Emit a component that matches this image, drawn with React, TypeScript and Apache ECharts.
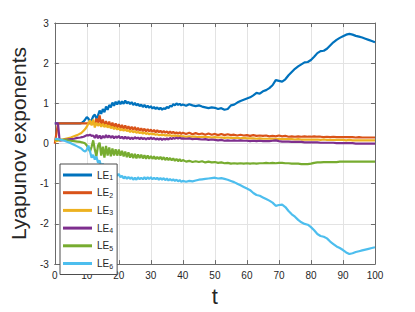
import React, { useEffect, useRef } from "react";
import * as echarts from "echarts";

const times = [
  0, 1, 1.5, 2, 3, 4, 5, 6, 7,
  8, 8.5, 9, 9.5, 10, 10.5, 11, 11.5, 12, 12.5, 13, 13.5, 14, 14.5, 15, 15.5,
  16, 16.5, 17, 17.5, 18, 18.5, 19, 19.5, 20, 20.5, 21, 21.5, 22, 22.5, 23, 23.5,
  24, 24.5, 25, 25.5, 26, 26.5, 27, 27.5, 28, 28.5, 29, 29.5, 30, 30.5, 31, 31.5,
  32, 32.5, 33, 33.5, 34, 34.5, 35, 35.5, 36, 36.5, 37, 37.5, 38, 38.5, 39, 39.5,
  40, 41, 42, 43, 44, 45, 46, 47, 48, 49, 50, 51, 52, 53, 54, 55, 56, 57, 58, 59,
  60, 61, 62, 63, 64, 65, 66, 67, 68, 69, 70, 71, 72, 73, 74, 75, 76, 77, 78, 79,
  80, 81, 82, 83, 84, 85, 86, 87, 88, 89, 90, 91, 92, 93, 94, 95, 96, 97, 98, 99, 100,
];

const le1 = [
  0.5, 0.5, 0.5, 0.5, 0.5, 0.5, 0.5, 0.5, 0.5,
  0.5, 0.52, 0.55, 0.6, 0.66, 0.62, 0.55, 0.58, 0.68, 0.72, 0.62, 0.7, 0.82, 0.74, 0.86, 0.78,
  0.92, 0.84, 0.96, 0.9, 1.02, 0.94, 1.04, 0.97, 1.06, 0.98, 1.05, 0.99, 1.07, 1.0, 1.04, 0.98,
  1.03, 0.96, 1.01, 0.95, 0.99, 0.93, 0.97, 0.91, 0.96, 0.9, 0.94, 0.89, 0.93, 0.87, 0.91, 0.86,
  0.9, 0.85, 0.89, 0.84, 0.88, 0.86, 0.91, 0.88, 0.94, 0.92, 0.98, 0.95, 1.0, 0.96, 0.99, 0.95,
  0.97, 0.94, 0.98, 0.95, 0.93, 0.95, 0.92, 0.9, 0.88, 0.9, 0.89, 0.86, 0.88, 0.84, 0.86, 0.95, 0.97, 1.02, 1.06, 1.09,
  1.12, 1.15, 1.2, 1.26, 1.24, 1.3, 1.33, 1.38, 1.45, 1.58, 1.56, 1.54, 1.6, 1.7, 1.78, 1.86, 1.92, 1.97, 2.02, 2.03,
  2.08, 2.16, 2.25, 2.3, 2.31, 2.36, 2.44, 2.52, 2.58, 2.63, 2.67, 2.71, 2.73, 2.71, 2.68, 2.66, 2.64, 2.61, 2.58, 2.55, 2.52,
];

const le2 = [
  0, 0.5, 0.5, 0.5, 0.5, 0.5, 0.5, 0.5, 0.5,
  0.5, 0.5, 0.5, 0.5, 0.5, 0.5, 0.5, 0.5, 0.52, 0.48, 0.62, 0.5, 0.7, 0.46, 0.6, 0.44,
  0.56, 0.42, 0.55, 0.41, 0.52, 0.4, 0.5, 0.4, 0.48, 0.38, 0.46, 0.37, 0.45, 0.36, 0.43, 0.35,
  0.42, 0.34, 0.41, 0.33, 0.39, 0.32, 0.38, 0.31, 0.37, 0.3, 0.36, 0.3, 0.35, 0.29, 0.34, 0.28,
  0.33, 0.28, 0.32, 0.27, 0.31, 0.27, 0.3, 0.26, 0.3, 0.26, 0.29, 0.25, 0.28, 0.25, 0.28, 0.24,
  0.27, 0.24, 0.27, 0.23, 0.26, 0.23, 0.25, 0.22, 0.25, 0.22, 0.24, 0.21, 0.24, 0.21, 0.23, 0.21, 0.22, 0.2, 0.22, 0.2,
  0.21, 0.19, 0.21, 0.19, 0.2, 0.19, 0.2, 0.18, 0.19, 0.18, 0.2, 0.18, 0.19, 0.17, 0.18, 0.17, 0.18, 0.17, 0.18, 0.17,
  0.17, 0.18, 0.17, 0.17, 0.16, 0.17, 0.16, 0.17, 0.16, 0.16, 0.16, 0.16, 0.16, 0.16, 0.15, 0.16, 0.15, 0.15, 0.15, 0.15, 0.15,
];

const le3 = [
  0.05, 0.07, 0.08, 0.09, 0.11, 0.13, 0.15, 0.18, 0.21,
  0.25, 0.28, 0.32, 0.36, 0.42, 0.5, 0.58, 0.45, 0.6, 0.4, 0.52, 0.44, 0.5, 0.42, 0.49, 0.41,
  0.47, 0.4, 0.45, 0.38, 0.42, 0.36, 0.4, 0.35, 0.38, 0.33, 0.36, 0.32, 0.35, 0.31, 0.33, 0.29,
  0.32, 0.28, 0.31, 0.27, 0.29, 0.26, 0.28, 0.25, 0.27, 0.24, 0.26, 0.23, 0.25, 0.23, 0.24, 0.22,
  0.23, 0.21, 0.22, 0.21, 0.22, 0.2, 0.21, 0.2, 0.21, 0.19, 0.2, 0.19, 0.2, 0.18, 0.19, 0.18,
  0.18, 0.17, 0.18, 0.17, 0.17, 0.16, 0.17, 0.16, 0.16, 0.15, 0.16, 0.15, 0.15, 0.14, 0.15, 0.14, 0.14, 0.14, 0.13, 0.14,
  0.13, 0.13, 0.13, 0.12, 0.13, 0.12, 0.12, 0.12, 0.12, 0.11, 0.12, 0.11, 0.11, 0.11, 0.11, 0.1, 0.11, 0.1, 0.1, 0.1,
  0.1, 0.1, 0.1, 0.09, 0.1, 0.09, 0.09, 0.09, 0.09, 0.09, 0.09, 0.08, 0.09, 0.08, 0.08, 0.08, 0.08, 0.08, 0.08, 0.08, 0.08,
];

const le4 = [
  0.5, 0.5, 0.08, 0.08, 0.09, 0.1, 0.11, 0.12, 0.14,
  0.15, 0.16, 0.17, 0.19, 0.21, 0.2, 0.22, 0.19, 0.2, 0.14, 0.22, 0.13, 0.2, 0.12, 0.19, 0.14,
  0.21, 0.15, 0.2, 0.14, 0.19, 0.13, 0.18, 0.14, 0.19, 0.13, 0.17, 0.12, 0.17, 0.12, 0.16, 0.11,
  0.15, 0.11, 0.16, 0.12, 0.15, 0.11, 0.15, 0.11, 0.14, 0.1, 0.14, 0.11, 0.15, 0.11, 0.14, 0.1,
  0.13, 0.1, 0.13, 0.09, 0.12, 0.1, 0.13, 0.1, 0.14, 0.11, 0.14, 0.12, 0.15, 0.12, 0.15, 0.12,
  0.13, 0.12, 0.13, 0.11, 0.12, 0.11, 0.1, 0.11, 0.09, 0.1, 0.09, 0.08, 0.09, 0.07, 0.08, 0.07, 0.08, 0.07, 0.08, 0.07,
  0.07, 0.06, 0.07, 0.06, 0.07, 0.06, 0.06, 0.06, 0.07, 0.08, 0.06, 0.05, 0.05, 0.05, 0.04, 0.04, 0.04, 0.04, 0.03, 0.03,
  0.03, 0.03, 0.03, 0.02, 0.02, 0.02, 0.02, 0.02, 0.01, 0.01, 0.01, 0.01, 0.01, 0.01, 0.0, 0.0, 0.0, 0.0, 0.0, 0.0, 0.0,
];

const le5 = [
  0.1, 0.1, 0.1, 0.09, 0.09, 0.08, 0.07, 0.06, 0.05,
  0.04, 0.03, 0.02, 0.0, -0.05, -0.12, -0.2, -0.08, 0.08, -0.15, -0.32, -0.05, 0.02, -0.3, -0.08, -0.35,
  -0.06, -0.3, -0.1, -0.32, -0.12, -0.3, -0.14, -0.3, -0.15, -0.3, -0.18, -0.32, -0.2, -0.34, -0.22, -0.35,
  -0.25, -0.36, -0.26, -0.37, -0.27, -0.36, -0.28, -0.37, -0.29, -0.38, -0.3, -0.38, -0.31, -0.38, -0.32, -0.39,
  -0.33, -0.39, -0.33, -0.4, -0.34, -0.41, -0.35, -0.41, -0.36, -0.42, -0.37, -0.43, -0.38, -0.44, -0.39, -0.44,
  -0.41, -0.45, -0.43, -0.46, -0.44, -0.46, -0.44, -0.47, -0.45, -0.47, -0.46, -0.48, -0.47, -0.49, -0.48, -0.5, -0.49, -0.5, -0.49, -0.5,
  -0.49, -0.5, -0.49, -0.5, -0.49, -0.49, -0.48, -0.49, -0.48, -0.49, -0.48, -0.48, -0.49, -0.49, -0.5, -0.5, -0.5, -0.51, -0.51, -0.51,
  -0.5, -0.48, -0.47, -0.47, -0.46, -0.46, -0.46, -0.46, -0.46, -0.45, -0.45, -0.45, -0.45, -0.45, -0.45, -0.45, -0.45, -0.45, -0.45, -0.45, -0.45,
];

const le6 = [
  0.12, 0.11, 0.1, 0.09, 0.07, 0.04, 0.01, -0.03, -0.07,
  -0.11, -0.14, -0.18, -0.2, -0.15, -0.05, -0.2, -0.35, -0.28, -0.4, -0.32, -0.48, -0.42, -0.58, -0.5, -0.65,
  -0.6, -0.72, -0.66, -0.78, -0.62, -0.6, -0.72, -0.8, -0.76, -0.84, -0.8, -0.87, -0.82, -0.88, -0.83, -0.88,
  -0.84, -0.9, -0.85, -0.9, -0.84, -0.89, -0.85, -0.89, -0.84, -0.89, -0.84, -0.88, -0.84, -0.89, -0.85, -0.89,
  -0.85, -0.9, -0.86, -0.9, -0.86, -0.91, -0.87, -0.92, -0.88, -0.92, -0.89, -0.93, -0.9, -0.94, -0.91, -0.95,
  -0.93, -0.95, -0.93, -0.94, -0.92, -0.9, -0.89, -0.88, -0.87, -0.86, -0.85, -0.87, -0.86, -0.88, -0.9, -0.93, -0.96, -1.0, -1.04, -1.08,
  -1.12, -1.16, -1.23, -1.28, -1.3, -1.34, -1.38, -1.42, -1.47, -1.55, -1.53, -1.52, -1.58, -1.68, -1.76, -1.82, -1.9, -1.96, -2.0, -2.02,
  -2.08, -2.16, -2.25, -2.3, -2.32, -2.36, -2.44, -2.5, -2.56, -2.6, -2.65, -2.71, -2.75, -2.73, -2.7, -2.68, -2.66, -2.64, -2.62, -2.6, -2.58,
];

const seriesNames = ["LE1", "LE2", "LE3", "LE4", "LE5", "LE6"];
const seriesValues = [le1, le2, le3, le4, le5, le6];
const seriesColors = ["#0072BD", "#D95319", "#EDB120", "#7E2F8E", "#77AC30", "#4DBEEE"];

const xAxisTitle = "t";
const yAxisTitle = "Lyapunov exponents";

const FONT = "'Liberation Sans', Arial, Helvetica, sans-serif";
const AXIS_COLOR = "#6b6b6b";
const TEXT_COLOR = "#262626";

export default function App() {
  const ref = useRef<HTMLDivElement>(null);

  useEffect(() => {
    document.body.style.margin = "0";
    if (!ref.current) return;
    const chart = echarts.init(ref.current, undefined, { renderer: "svg" });

    const series = seriesNames.map((name, i) => ({
      name,
      type: "line",
      xAxisIndex: 0,
      yAxisIndex: 0,
      data: times.map((t, j) => [t, seriesValues[i][j]]),
      showSymbol: false,
      symbol: "none",
      lineStyle: { width: 2.2, color: seriesColors[i] },
      itemStyle: { color: seriesColors[i] },
      emphasis: { disabled: true },
      z: 2 + i,
    }));

    const tickStyle = { show: true, inside: true, length: 4, lineStyle: { color: AXIS_COLOR, width: 1 } };

    chart.setOption({
      animation: false,
      backgroundColor: "#ffffff",
      textStyle: { fontFamily: FONT },
      grid: { left: 54, right: 40, top: 23, bottom: 43, containLabel: false },
      legend: {
        orient: "vertical",
        left: 60,
        top: 164,
        padding: [4, 4, 5, 3],
        itemWidth: 29,
        itemHeight: 3,
        itemGap: 4.7,
        icon: "rect",
        backgroundColor: "#ffffff",
        borderColor: "#4d4d4d",
        borderWidth: 1,
        borderRadius: 0,
        data: seriesNames,
        formatter: (name: string) => "LE{s|" + name.slice(2) + "}",
        textStyle: {
          fontFamily: FONT,
          fontSize: 10,
          color: TEXT_COLOR,
          lineHeight: 12,
          rich: {
            s: { fontSize: 7, fontFamily: FONT, color: TEXT_COLOR, verticalAlign: "bottom", padding: [6, 0, 0, 0], lineHeight: 12 },
          },
        },
        selectedMode: false,
        z: 10,
      },
      xAxis: [
        {
          type: "value",
          min: 0,
          max: 100,
          interval: 10,
          position: "bottom",
          name: xAxisTitle,
          nameLocation: "middle",
          nameGap: 20,
          nameTextStyle: { fontSize: 22, color: TEXT_COLOR, fontFamily: FONT },
          axisLine: { show: true, onZero: false, lineStyle: { color: AXIS_COLOR, width: 1 } },
          axisTick: tickStyle,
          axisLabel: { fontSize: 10, color: TEXT_COLOR, margin: 6, fontFamily: FONT },
          splitLine: { show: true, lineStyle: { color: "#e3e3e3", width: 1 } },
        },
        {
          type: "value",
          min: 0,
          max: 100,
          interval: 10,
          position: "top",
          axisLine: { show: true, onZero: false, lineStyle: { color: AXIS_COLOR, width: 1 } },
          axisTick: tickStyle,
          axisLabel: { show: false },
          splitLine: { show: false },
        },
      ],
      yAxis: [
        {
          type: "value",
          min: -3,
          max: 3,
          interval: 1,
          position: "left",
          name: yAxisTitle,
          nameLocation: "middle",
          nameGap: 16,
          nameTextStyle: { fontSize: 21, color: TEXT_COLOR, fontFamily: FONT },
          axisLine: { show: true, onZero: false, lineStyle: { color: AXIS_COLOR, width: 1 } },
          axisTick: tickStyle,
          axisLabel: { fontSize: 10, color: TEXT_COLOR, margin: 6, fontFamily: FONT },
          splitLine: { show: true, lineStyle: { color: "#e3e3e3", width: 1 } },
        },
        {
          type: "value",
          min: -3,
          max: 3,
          interval: 1,
          position: "right",
          axisLine: { show: true, onZero: false, lineStyle: { color: AXIS_COLOR, width: 1 } },
          axisTick: tickStyle,
          axisLabel: { show: false },
          splitLine: { show: false },
        },
      ],
      series,
    });

    return () => {
      chart.dispose();
    };
  }, []);

  return <div ref={ref} style={{ width: 415, height: 312, background: "#fff" }} />;
}
